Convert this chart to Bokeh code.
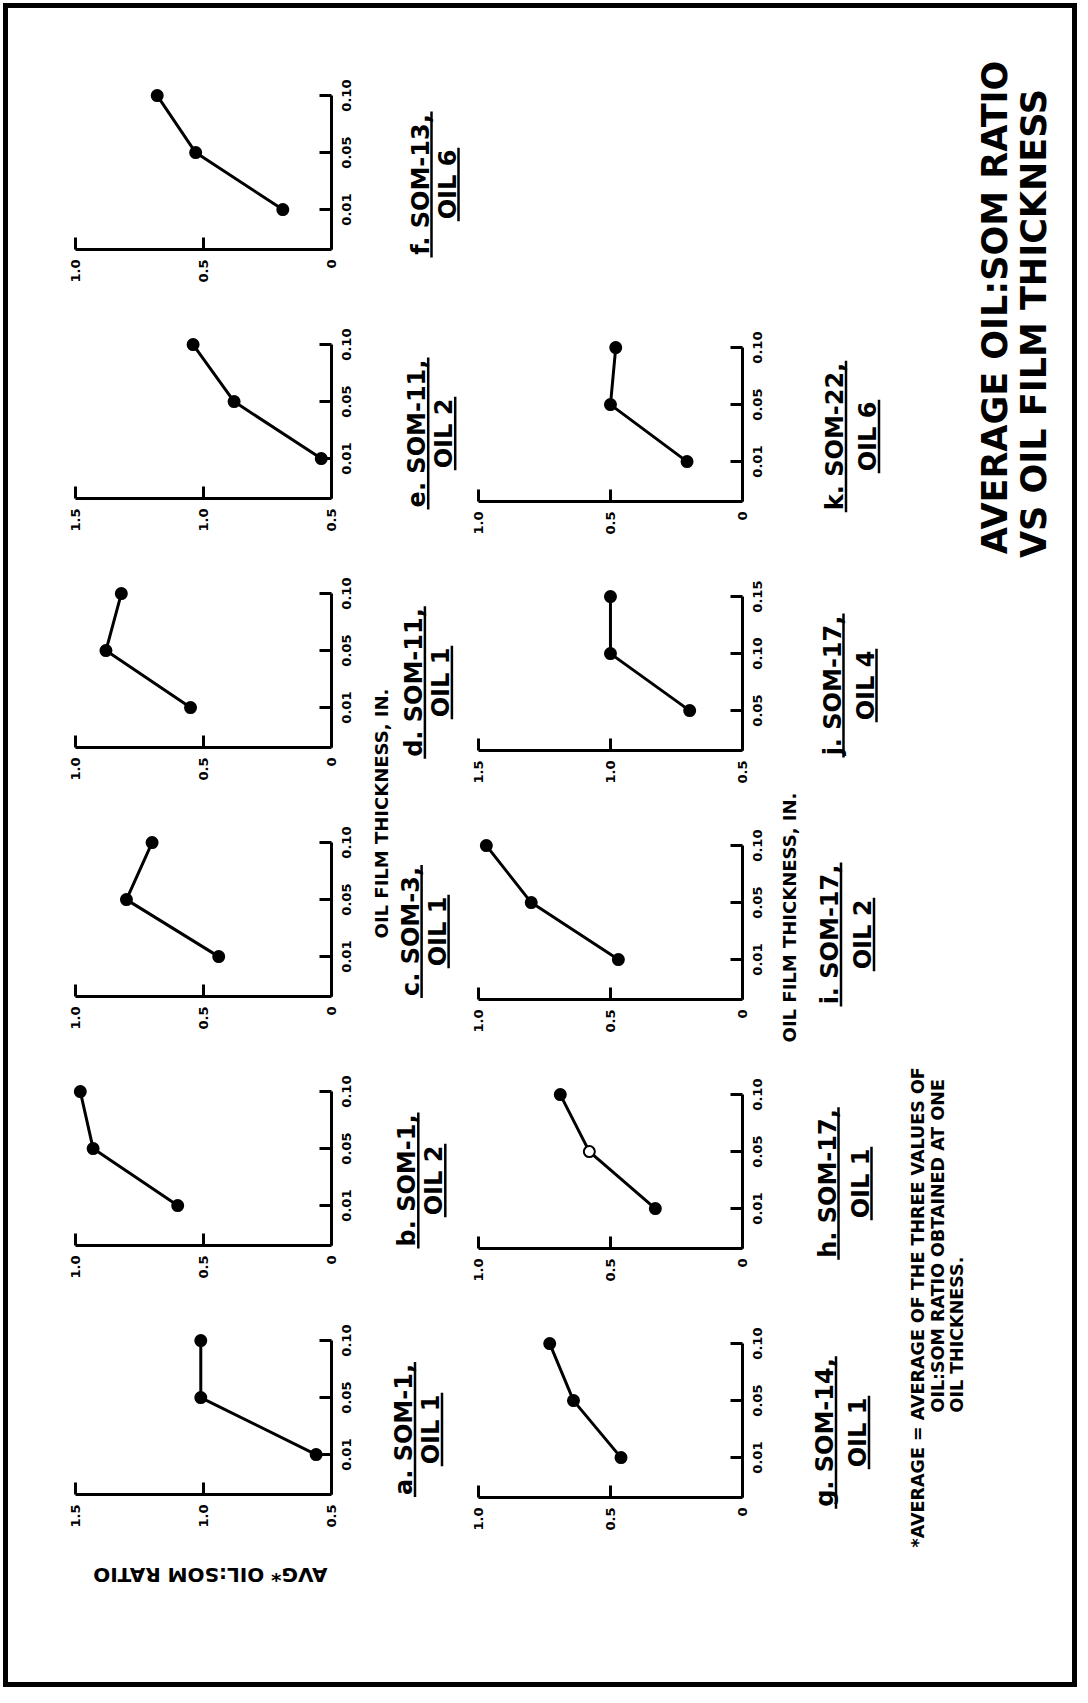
import math
from bokeh.plotting import figure
from bokeh.models import Range1d, FixedTicker, LinearAxis, Spacer, ColumnDataSource
from bokeh.layouts import row, column
from bokeh.embed import file_html
from bokeh.resources import INLINE
from bokeh.core.properties import value

# ---------------- data ----------------
thickness_std = ["0.01", "0.05", "0.10"]
thickness_j = ["0.05", "0.10", "0.15"]

ratio_a = [0.56, 1.01, 1.01]
ratio_b = [0.60, 0.93, 0.98]
ratio_c = [0.44, 0.80, 0.70]
ratio_d = [0.55, 0.88, 0.82]
ratio_e = [0.54, 0.88, 1.04]
ratio_f = [0.19, 0.53, 0.68]
ratio_g = [0.46, 0.64, 0.73]
ratio_h = [0.33, 0.58, 0.69]
ratio_i = [0.47, 0.80, 0.97]
ratio_j = [0.70, 1.00, 1.00]
ratio_k = [0.21, 0.50, 0.48]

open_point_h = [False, True, False]

ratio_ticks_hi = [1.5, 1.0, 0.5]
ratio_labels_hi = ["1.5", "1.0", "0.5"]
ratio_ticks_lo = [1.0, 0.5, 0.0]
ratio_labels_lo = ["1.0", "0.5", "0"]

caption_line1 = {"a": "a. SOM-1,", "b": "b. SOM-1,", "c": "c. SOM-3,", "d": "d. SOM-11,",
                 "e": "e. SOM-11,", "f": "f. SOM-13,", "g": "g. SOM-14,", "h": "h. SOM-17,",
                 "i": "i. SOM-17,", "j": "j. SOM-17,", "k": "k. SOM-22,"}
caption_line2 = {"a": "OIL 1", "b": "OIL 2", "c": "OIL 1", "d": "OIL 1", "e": "OIL 2",
                 "f": "OIL 6", "g": "OIL 1", "h": "OIL 1", "i": "OIL 2", "j": "OIL 4", "k": "OIL 6"}

title_lines = ["AVERAGE OIL:SOM RATIO", "VS OIL FILM THICKNESS"]
y_title = "AVG* OIL:SOM RATIO"
x_title = "OIL FILM THICKNESS, IN."
footnote_lines = ["*AVERAGE = AVERAGE OF THE THREE VALUES OF",
                  "OIL:SOM RATIO OBTAINED AT ONE",
                  "OIL THICKNESS."]

# ---------------- styling / layout constants ----------------
FONT = "DejaVu Sans"
TICK_FONT = 13
UNIT_Y = 57.0            # px per thickness step
FRAME_H = 161
PAD_BOT = 55
PANEL_H = 249
PAD_TOP = PANEL_H - PAD_BOT - FRAME_H
POS = [1, 2, 3]
Y_START = 0.3
Y_END = Y_START + FRAME_H / UNIT_Y
X_PAD = 0.03             # room so that edge markers are not clipped
LABEL_SHIFT = (2.468 * TICK_FONT / 2) / UNIT_Y   # centre rotated tick labels on their ticks

# approximate advance widths (em) of DejaVu Sans Bold, for underline lengths
W = {" ": .348, ",": .38, ".": .38, "-": .415, ":": .4, "*": .5, "=": .838}
W.update({d: .696 for d in "0123456789"})
W.update({"A": .774, "B": .762, "C": .734, "D": .83, "E": .683, "F": .683, "G": .821, "H": .837,
          "I": .372, "K": .775, "L": .637, "M": .995, "N": .837, "O": .85, "R": .77, "S": .72,
          "T": .682, "U": .812, "V": .774})
W.update({"a": .675, "b": .716, "c": .593, "d": .716, "e": .678, "f": .435, "g": .716,
          "h": .712, "i": .343, "j": .343, "k": .665})


def text_width(s, size):
    return sum(W.get(ch, .65) for ch in s) * size


def style_axis(ax, standoff):
    ax.axis_line_width = 3
    ax.axis_line_color = "black"
    ax.major_tick_line_width = 3
    ax.major_tick_line_color = "black"
    ax.major_tick_in = 12
    ax.major_tick_out = 0
    ax.minor_tick_line_color = None
    ax.major_label_orientation = math.pi / 2
    ax.major_label_standoff = standoff
    ax.major_label_text_font = FONT
    ax.major_label_text_font_style = "bold"
    ax.major_label_text_font_size = f"{TICK_FONT}px"
    ax.major_label_text_color = "black"


def make_panel(ratios, tlabels, hi, fills, width, axis_x_rel, unit_x):
    """axis_x_rel: x of the thickness axis (ratio origin) inside the figure."""
    ticks = ratio_ticks_hi if hi else ratio_ticks_lo
    labels = ratio_labels_hi if hi else ratio_labels_lo
    frame_w = int(round((ticks[0] + X_PAD - ticks[-1]) * unit_x))
    left = axis_x_rel - frame_w
    p = figure(width=width, height=PANEL_H,
               x_range=Range1d(ticks[0] + X_PAD, ticks[-1]), y_range=Range1d(Y_START, Y_END),
               output_backend="svg", toolbar_location=None,
               x_axis_location=None, y_axis_location=None,
               min_border_left=left, min_border_right=width - axis_x_rel,
               min_border_top=PAD_TOP, min_border_bottom=PAD_BOT)
    p.grid.grid_line_color = None
    p.outline_line_color = None
    p.extra_y_ranges = {"labels": Range1d(Y_START + LABEL_SHIFT, Y_END + LABEL_SHIFT)}

    xa = LinearAxis(ticker=FixedTicker(ticks=ticks), bounds=(ticks[-1], ticks[0]),
                    major_label_overrides={float(t): l for t, l in zip(ticks, labels)})
    style_axis(xa, 10)
    p.add_layout(xa, "below")

    # thickness axis: line + ticks (no labels)
    ya = LinearAxis(ticker=FixedTicker(ticks=POS), bounds=(Y_START, POS[-1]))
    style_axis(ya, 0)
    ya.major_label_text_color = None
    ya.major_label_text_font_size = "1px"
    p.add_layout(ya, "right")
    # thickness axis: tick labels, centred on the ticks
    yl = LinearAxis(y_range_name="labels", ticker=FixedTicker(ticks=POS),
                    major_label_overrides={float(q): l for q, l in zip(POS, tlabels)})
    style_axis(yl, 15)
    yl.axis_line_color = None
    yl.major_tick_line_color = None
    p.add_layout(yl, "right")

    src = ColumnDataSource(dict(ratio=ratios, pos=POS, thickness=tlabels, fill=fills))
    p.line("ratio", "pos", source=src, line_width=3, line_color="black")
    p.scatter("ratio", "pos", source=src, size=11, fill_color="fill",
              line_color="black", line_width=2)
    return p


def text_fig(x0, x1, y0, y1):
    p = figure(width=x1 - x0, height=y1 - y0, x_range=Range1d(x0, x1), y_range=Range1d(-y1, -y0),
               output_backend="svg", toolbar_location=None, min_border=0,
               x_axis_location=None, y_axis_location=None)
    p.grid.grid_line_color = None
    p.outline_line_color = None
    return p


def put_text(p, x, y, s, size, align="center", angle=math.pi / 2):
    p.text(x=[x], y=[-y], text=[s], angle=angle, text_align=align, text_baseline="middle",
           text_font=value(FONT), text_font_style="bold", text_font_size=f"{size}px",
           text_color="black")


def underline(p, x, yc, length):
    p.segment(x0=[x], y0=[-(yc - length / 2)], x1=[x], y1=[-(yc + length / 2)],
              line_width=2.5, line_color="black")


def fills_of(flags):
    return ["white" if f else "black" for f in flags]


# ---------------- geometry (page pixels) ----------------
X_SA, X_TA, X_SB, X_TB, X_TT, X_END = 16, 378, 469, 786, 905, 1080
Y_TOP, Y_END_PX = 16, 1690
A_order = ["f", "e", "d", "c", "b", "a"]
B_order = ["k", "j", "i", "h", "g"]
A_row = {k: n for n, k in enumerate(A_order)}
B_row = {k: n + 1 for n, k in enumerate(B_order)}
A_origin = {k: 257 + 249 * n for k, n in A_row.items()}
B_origin = {k: 260 + 249 * n for k, n in B_row.items()}
A_axis = {k: 349 - 2 * n for k, n in A_row.items()}
B_axis = {k: 760 - 2 * n for k, n in B_row.items()}

ratios = {"a": ratio_a, "b": ratio_b, "c": ratio_c, "d": ratio_d, "e": ratio_e, "f": ratio_f,
          "g": ratio_g, "h": ratio_h, "i": ratio_i, "j": ratio_j, "k": ratio_k}
hi_scale = {"a", "e", "j"}

# column A panels
a_children = [Spacer(width=X_TA - X_SA, height=A_origin["f"] - FRAME_H - PAD_TOP - Y_TOP)]
for k in A_order:
    a_children.append(make_panel(ratios[k], thickness_std, k in hi_scale, fills_of([False] * 3),
                                 X_TA - X_SA, A_axis[k] - X_SA, 266))
ylab_top = A_origin["a"] + PAD_BOT
yl = text_fig(X_SA, X_TA, ylab_top, Y_END_PX)
put_text(yl, 212, 1582, y_title, 20, angle=math.pi)
a_children.append(yl)
col_A = column(*a_children)

# column B panels
b_children = [Spacer(width=X_TB - X_SB, height=B_origin["k"] - FRAME_H - PAD_TOP - Y_TOP)]
for k in B_order:
    tl = thickness_j if k == "j" else thickness_std
    fl = fills_of(open_point_h if k == "h" else [False] * 3)
    b_children.append(make_panel(ratios[k], tl, k in hi_scale, fl, X_TB - X_SB,
                                 B_axis[k] - X_SB, 272))
b_bottom = B_origin["g"] + PAD_BOT
b_children.append(Spacer(width=X_TB - X_SB, height=Y_END_PX - b_bottom))
col_B = column(*b_children)


def captions(p, origins, rows, x1, x2, skew):
    for k, o in origins.items():
        yc = o - 65
        s = skew * rows[k]
        put_text(p, x1 + s, yc, caption_line1[k], 24)
        put_text(p, x2 + s, yc, caption_line2[k], 24)
        underline(p, x1 + s + 11, yc, text_width(caption_line1[k], 24) + 4)
        underline(p, x2 + s + 11, yc, text_width(caption_line2[k], 24) + 4)


ta = text_fig(X_TA, X_SB, Y_TOP, Y_END_PX)
put_text(ta, 389, 821, x_title, 18)
captions(ta, A_origin, A_row, 428, 455, -3.3)

tb = text_fig(X_TB, X_TT, Y_TOP, Y_END_PX)
put_text(tb, 797, 925, x_title, 18)
captions(tb, B_origin, B_row, 845, 878, -2.5)

tt = text_fig(X_TT, X_END, Y_TOP, Y_END_PX)
put_text(tt, 1002, 315, title_lines[0], 35)
put_text(tt, 1041, 331, title_lines[1], 35)
put_text(tt, 925, 1555, footnote_lines[0], 17.5, align="left")
put_text(tt, 945, 1420, footnote_lines[1], 17.5, align="left")
put_text(tt, 964, 1420, footnote_lines[2], 17.5, align="left")

content = row(col_A, ta, col_B, tb, tt)

H_IN = Y_END_PX - Y_TOP
W_IN = X_END - X_SA


def bar(w, h):
    return Spacer(width=w, height=h, styles={"background-color": "black"})


page = column(
    Spacer(width=W_IN + 13, height=3),
    row(Spacer(width=3, height=5), bar(W_IN + 10, 5)),
    row(Spacer(width=3, height=H_IN), bar(5, H_IN), content, bar(5, H_IN)),
    row(Spacer(width=3, height=5), bar(W_IN + 10, 5)),
)

open("out.html", "w").write(file_html(page, INLINE))
